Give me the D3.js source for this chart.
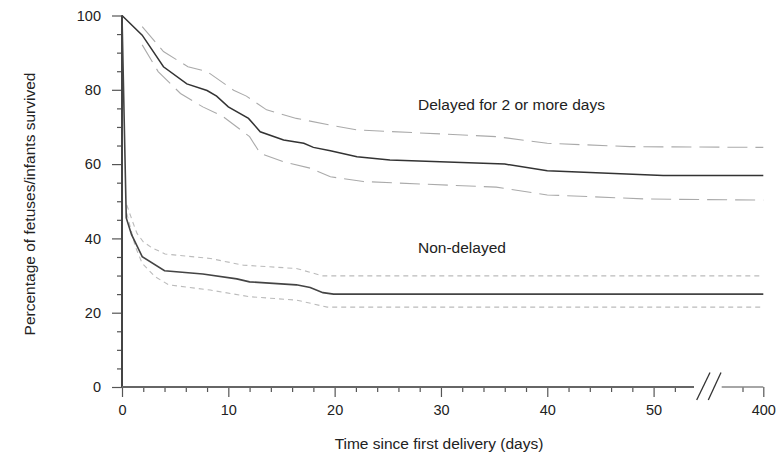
<!DOCTYPE html>
<html>
<head>
<meta charset="utf-8">
<script src="https://cdn.jsdelivr.net/npm/d3@7"></script>
<style>
  body { margin: 0; background: #fff; }
  svg { font-family: Arial, "Liberation Sans", sans-serif; }
</style>
</head>
<body>
<div id="chart"></div>
<script>
// survival curves: [day, percent survived]
var delayedEst = [[0,100],[1.9,94.7],[3.9,86.2],[6.1,81.6],[8,79.8],[8.9,78.3],[10,75.4],[11.9,72.3],
    [13,68.7],[15.2,66.5],[17.1,65.6],[18,64.5],[19.6,63.6],[22.1,62.0],[25.2,61.1],[36,60.0],
    [40,58.2],[50.9,56.9],[400,56.9]];
var delayedUpper = [[1.9,97.0],[3.9,90.3],[6.2,86.2],[8,84.9],[10.5,79.9],[11.7,78.3],[13.6,74.6],
    [16.4,72.3],[19.6,70.5],[22.1,69.2],[35.2,67.4],[40,65.6],[47.8,64.7],[400,64.5]];
var delayedLower = [[1.9,92.1],[3.4,84.9],[5.5,79.0],[7.6,75.4],[9.5,72.8],[12,67.4],[13,62.9],
    [15.2,60.6],[17.7,58.9],[19.6,56.6],[22.7,55.3],[35.2,53.8],[40,51.7],[49.4,50.6],[400,50.3]];

var nonDelayedEst = [[0,100],[0.4,45.5],[0.9,41],[1.9,35.1],[4,31.3],[7.6,30.4],[10.8,29.1],[12,28.3],
    [16.4,27.5],[17.7,26.8],[18.9,25.4],[19.9,25.0],[400,25.0]];
var nonDelayedUpper = [[0.45,49],[1,44.5],[1.4,41.4],[2,39.1],[2.8,37.5],[4.05,35.8],[8.3,34.6],
    [11.4,32.8],[16.4,31.9],[18.9,29.9],[400,29.9]];
var nonDelayedLower = [[0.45,46.7],[1.25,37.8],[1.9,33.3],[3.1,29.7],[4.4,27.5],[8.3,26.1],[12,24.3],
    [16.4,23.4],[19.3,21.5],[400,21.5]];

var xMajor = [0, 10, 20, 30, 40, 50, 400];
var xMinor = [2,4,6,8,12,14,16,18,22,24,26,28,32,34,36,38,42,44,46,48,52,398];
var yMajor = [0, 20, 40, 60, 80, 100];
var yMinor = [5,10,15,25,30,35,45,50,55,65,70,75,85,90,95];

var margin = {top: 15.5, left: 122},
    W = 782, H = 452,
    height = 371.5;

var svg = d3.select("#chart").append("svg")
    .attr("width", W).attr("height", H);
var g = svg.append("g")
    .attr("transform", "translate(" + margin.left + "," + margin.top + ")");

// broken x axis: 0..53.8 then a short piece 396..400
var x = d3.scaleLinear()
    .domain([0, 53.8, 396, 400])
    .range([0, 572, 599.7, 641.3]);
var y = d3.scaleLinear().domain([0, 100]).range([height, 0]);

var line = d3.line().x(function(d){ return x(d[0]); }).y(function(d){ return y(d[1]); });

// y axis
var yAx = g.append("g").call(d3.axisLeft(y).tickValues(yMajor).tickSize(10).tickPadding(11));
g.append("g").call(d3.axisLeft(y).tickValues(yMinor).tickSize(5).tickFormat(""));
// x axis
var xAx = g.append("g").attr("transform", "translate(0," + height + ")")
    .call(d3.axisBottom(x).tickValues(xMajor).tickSize(10).tickPadding(8).tickFormat(d3.format("d")));
g.append("g").attr("transform", "translate(0," + height + ")")
    .call(d3.axisBottom(x).tickValues(xMinor).tickSize(5).tickFormat(""));

g.selectAll(".domain").remove();
g.selectAll(".tick line").attr("stroke", "#555").attr("stroke-width", 1.2);
g.selectAll(".tick text").attr("fill", "#222").style("font-size", "14.5px");

// axis lines
g.append("line").attr("x1", 0).attr("x2", 0).attr("y1", y(0)).attr("y2", y(100))
    .attr("stroke", "#444").attr("stroke-width", 2);
g.append("line").attr("x1", x(0)).attr("x2", x(53.8)).attr("y1", y(0)).attr("y2", y(0))
    .attr("stroke", "#666").attr("stroke-width", 2);
g.append("line").attr("x1", x(396)).attr("x2", x(400)).attr("y1", y(0)).attr("y2", y(0))
    .attr("stroke", "#888").attr("stroke-width", 1.5);

// the break slashes
[[574.7, 588], [586.3, 599]].forEach(function(s) {
    g.append("line").attr("x1", s[0]).attr("y1", height + 13).attr("x2", s[1]).attr("y2", height - 14.5)
        .attr("stroke", "#333").attr("stroke-width", 1.3);
});

// curves
var curves = [
    {d: delayedUpper, c: "#aaa", w: 1.1, dash: "20,8"},
    {d: delayedLower, c: "#aaa", w: 1.1, dash: "20,8"},
    {d: nonDelayedUpper, c: "#bbb", w: 1.1, dash: "5,4"},
    {d: nonDelayedLower, c: "#bbb", w: 1.1, dash: "5,4"},
    {d: delayedEst, c: "#333", w: 1.5, dash: null},
    {d: nonDelayedEst, c: "#444", w: 1.6, dash: null}
];
curves.forEach(function(s) {
    g.append("path").datum(s.d)
        .attr("d", line)
        .attr("fill", "none")
        .attr("stroke", s.c)
        .attr("stroke-width", s.w)
        .attr("stroke-dasharray", s.dash);
});

// labels
svg.append("text").attr("x", 418).attr("y", 110)
    .style("font-size", "15.5px").attr("fill", "#222")
    .text("Delayed for 2 or more days");
svg.append("text").attr("x", 418).attr("y", 252.5)
    .style("font-size", "15.5px").attr("fill", "#222")
    .text("Non-delayed");

// axis titles
svg.append("text").attr("x", 439).attr("y", 449)
    .attr("text-anchor", "middle").style("font-size", "15.5px").attr("fill", "#222")
    .text("Time since first delivery (days)");
svg.append("text")
    .attr("transform", "translate(35,204) rotate(-90)")
    .attr("text-anchor", "middle").style("font-size", "15.5px").attr("fill", "#222")
    .text("Percentage of fetuses/infants survived");
</script>
</body>
</html>
